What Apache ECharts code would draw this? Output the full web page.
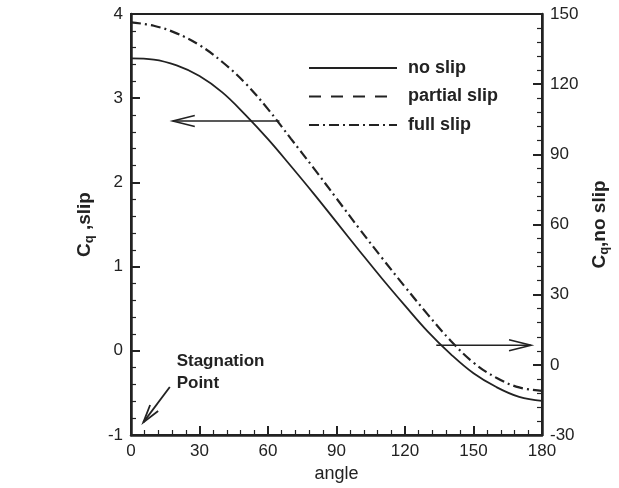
<!DOCTYPE html>
<html>
<head>
<meta charset="utf-8">
<script src="https://cdn.jsdelivr.net/npm/echarts@6/dist/echarts.min.js"></script>
<style>
  html, body { margin: 0; padding: 0; background: #fff; }
  #chart { width: 619px; height: 488px; }
</style>
</head>
<body>
<div id="chart"></div>
<script>
// angle (deg)
const angles = [0, 10, 20, 30, 40, 50, 60, 70, 80, 90, 100, 110, 120, 130, 140, 150, 160, 170, 180];
// Cq no slip -> right axis
const noSlip = [131, 130.5, 128, 123.5, 116.5, 107, 96.5, 85, 73.2, 61, 48.8, 36.8, 25.3, 14.2, 4.6, -3.6, -9.5, -13.7, -15.4];
// partial slip: only in the legend, no curve visible
const partialSlip = [];
// Cq slip -> left axis
const fullSlip = [3.90, 3.86, 3.77, 3.63, 3.43, 3.18, 2.87, 2.52, 2.17, 1.81, 1.45, 1.10, 0.76, 0.43, 0.12, -0.14, -0.32, -0.435, -0.475];

// annotation arrows, [angle, value] on their own axis
const leftArrow = { from: [65, 2.73], to: [18.3, 2.73], yAxis: 0 };
const rightArrow = { from: [133.7, 8.4], to: [175.2, 8.4], yAxis: 1 };
const stagArrow = { from: [17.0, -0.43], to: [5.4, -0.85], yAxis: 0 };
const stagLabel = { at: [20, 0.01], text: 'Stagnation\nPoint' };

const FONT = '"Liberation Sans", Arial, sans-serif';
const INK = '#222';

const chart = echarts.init(document.getElementById('chart'));

function pair(xs, ys) {
  return ys.map((v, i) => [xs[i], v]);
}

const axisCommon = {
  axisLine: { show: true, onZero: false, lineStyle: { color: INK, width: 2.5 } },
  axisTick: { show: true, inside: true, length: 9, lineStyle: { color: INK, width: 2 } },
  minorTick: { show: true, splitNumber: 5, length: 5, lineStyle: { color: INK, width: 1.2 } },
  splitLine: { show: false },
  axisLabel: { color: INK, fontSize: 17, fontFamily: FONT, margin: 8 },
};

const nameRich = {
  c: { fontSize: 19, fontWeight: 'bold', fontFamily: FONT, color: INK },
  q: { fontSize: 13, fontWeight: 'bold', fontFamily: FONT, color: INK, padding: [9, 0, 0, 0] },
};

const option = {
  animation: false,
  grid: {
    left: 131, right: 76, top: 14, bottom: 52,
    show: true, borderColor: INK, borderWidth: 2,
  },
  legend: {
    orient: 'vertical',
    left: 303,
    top: 54,
    itemWidth: 88,
    itemHeight: 16,
    itemGap: 10.5,
    itemStyle: { opacity: 0 },
    textStyle: { color: INK, fontSize: 18, fontWeight: 'bold', fontFamily: FONT, padding: [0, 0, 0, 6] },
    data: ['no slip', 'partial slip', 'full slip'],
  },
  xAxis: {
    type: 'value',
    min: 0, max: 180, interval: 30,
    name: 'angle',
    nameLocation: 'middle',
    nameGap: 30,
    nameTextStyle: { color: INK, fontSize: 18, fontFamily: FONT },
    ...axisCommon,
  },
  yAxis: [
    {
      type: 'value',
      position: 'left',
      min: -1, max: 4, interval: 1,
      name: '{c|C}{q|q}{c| ,slip}',
      nameLocation: 'middle',
      nameRotate: 90,
      nameGap: 35,
      nameTextStyle: { rich: nameRich },
      ...axisCommon,
    },
    {
      type: 'value',
      position: 'right',
      min: -30, max: 150, interval: 30,
      name: '{c|C}{q|q}{c|,no slip}',
      nameLocation: 'middle',
      nameRotate: 90,
      nameGap: 47,
      nameTextStyle: { rich: nameRich },
      ...axisCommon,
    },
  ],
  series: [
    {
      name: 'no slip',
      type: 'line',
      yAxisIndex: 1,
      data: pair(angles, noSlip),
      symbol: 'none',
      smooth: 0.4,
      lineStyle: { color: INK, width: 1.8, type: 'solid' },
      itemStyle: { color: INK },
    },
    {
      name: 'partial slip',
      type: 'line',
      yAxisIndex: 0,
      data: partialSlip,
      symbol: 'none',
      lineStyle: { color: INK, width: 2, type: [12, 10] },
      itemStyle: { color: INK },
    },
    {
      name: 'full slip',
      type: 'line',
      yAxisIndex: 0,
      data: pair(angles, fullSlip),
      symbol: 'none',
      smooth: 0.4,
      lineStyle: { color: INK, width: 2.2, type: [10, 4, 2, 4] },
      itemStyle: { color: INK },
    },
  ],
};

chart.setOption(option);

// arrows drawn in pixel space from the axis scales
function toPx(pt, yAxis) {
  return chart.convertToPixel({ xAxisIndex: 0, yAxisIndex: yAxis }, pt);
}

function arrow(a, headLen, headHalf, width) {
  const p0 = toPx(a.from, a.yAxis);
  const p1 = toPx(a.to, a.yAxis);
  const dx = p1[0] - p0[0], dy = p1[1] - p0[1];
  const len = Math.sqrt(dx * dx + dy * dy);
  const ux = dx / len, uy = dy / len;
  const nx = -uy, ny = ux;
  const bx = p1[0] - ux * headLen, by = p1[1] - uy * headLen;
  const style = { stroke: INK, lineWidth: width, fill: null };
  return [
    { type: 'line', shape: { x1: p0[0], y1: p0[1], x2: p1[0], y2: p1[1] }, style },
    {
      type: 'polyline',
      shape: { points: [[bx + nx * headHalf, by + ny * headHalf], p1, [bx - nx * headHalf, by - ny * headHalf]] },
      style,
    },
  ];
}

const labelPx = toPx(stagLabel.at, 0);

chart.setOption({
  graphic: [
    ...arrow(leftArrow, 22, 5.5, 1.6),
    ...arrow(rightArrow, 22, 5.5, 1.6),
    ...arrow(stagArrow, 18, 5, 1.8),
    {
      type: 'text',
      x: labelPx[0],
      y: labelPx[1],
      style: {
        text: stagLabel.text,
        fill: INK,
        font: 'bold 17px ' + FONT,
        lineHeight: 22,
        textAlign: 'left',
        textVerticalAlign: 'top',
      },
    },
  ],
});
</script>
</body>
</html>
